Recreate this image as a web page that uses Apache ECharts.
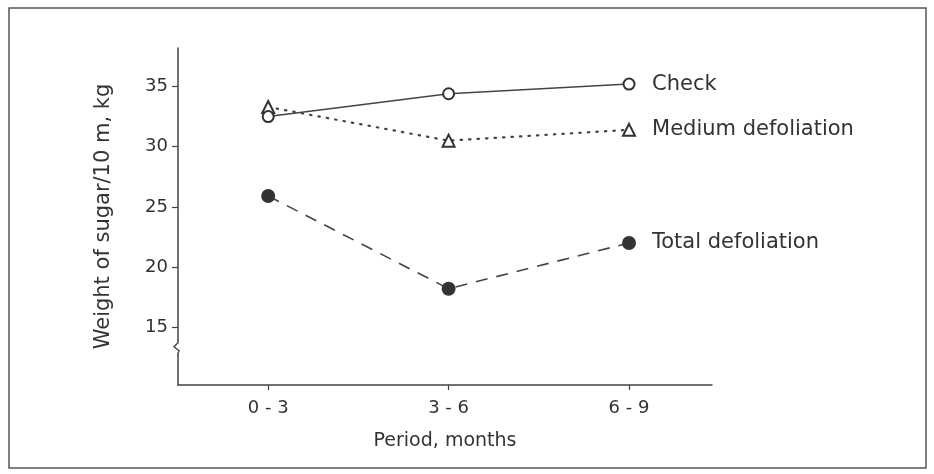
<!DOCTYPE html>
<html>
<head>
<meta charset="utf-8">
<script src="https://cdn.jsdelivr.net/npm/echarts@6/dist/echarts.min.js"></script>
<style>
html,body{margin:0;padding:0;background:#fff;}
#chart{width:934px;height:474px;}
</style>
</head>
<body>
<div id="chart"></div>
<script>
// ---- data ----
var categories = ['0 - 3', '3 - 6', '6 - 9'];
var checkValues = [32.5, 34.4, 35.2];
var mediumValues = [33.3, 30.5, 31.4];
var totalValues = [25.9, 18.2, 22.0];
var seriesNames = ['Check', 'Medium defoliation', 'Total defoliation'];
var yTickValues = [15, 20, 25, 30, 35];
var xTickValues = [0, 1, 2];
var yAxisName = 'Weight of sugar/10 m, kg';
var xAxisName = 'Period, months';

var FONT = '"DejaVu Sans", Verdana, sans-serif';
var TXT = '#333';
var LN = '#444';

function toPairs(arr) { return arr.map(function (v, i) { return [i, v]; }); }

var chart = echarts.init(document.getElementById('chart'), null, { renderer: 'canvas' });

var endLabel = {
  show: true,
  formatter: '{a}',
  color: TXT,
  fontFamily: FONT,
  fontSize: 21,
  distance: 23
};

var option = {
  animation: false,
  backgroundColor: '#fff',
  grid: { left: 178, right: 222, top: 48, bottom: 89, containLabel: false },
  xAxis: {
    type: 'value',
    min: -0.5,
    max: 2.46,
    axisLine: { show: true, onZero: false, lineStyle: { color: LN, width: 1.5 } },
    axisTick: { show: true, length: 5, inside: false, customValues: xTickValues, lineStyle: { color: LN, width: 1.2 } },
    axisLabel: {
      customValues: xTickValues,
      formatter: function (v) { return categories[Math.round(v)]; },
      color: TXT, fontFamily: FONT, fontSize: 18, margin: 14
    },
    splitLine: { show: false },
    name: xAxisName,
    nameLocation: 'middle',
    nameGap: 47,
    nameTextStyle: { color: TXT, fontFamily: FONT, fontSize: 19 }
  },
  yAxis: {
    type: 'value',
    min: 10.2,
    max: 38.2,
    axisLine: { show: true, onZero: false, lineStyle: { color: LN, width: 1.5 } },
    axisTick: { show: true, length: 6, customValues: yTickValues, lineStyle: { color: LN, width: 1.2 } },
    axisLabel: {
      customValues: yTickValues,
      color: TXT, fontFamily: FONT, fontSize: 18, margin: 10
    },
    splitLine: { show: false },
    name: yAxisName,
    nameLocation: 'middle',
    nameGap: 64,
    nameRotate: 90,
    nameTextStyle: { color: TXT, fontFamily: FONT, fontSize: 21 }
  },
  series: [
    {
      name: seriesNames[0],
      type: 'line',
      data: toPairs(checkValues),
      symbol: 'circle',
      symbolSize: 11,
      itemStyle: { color: '#fff', borderColor: '#333', borderWidth: 2 },
      lineStyle: { color: LN, width: 1.5, type: 'solid' },
      endLabel: endLabel,
      z: 3
    },
    {
      name: seriesNames[1],
      type: 'line',
      data: toPairs(mediumValues),
      symbol: 'triangle',
      symbolSize: 12,
      itemStyle: { color: '#fff', borderColor: '#333', borderWidth: 2 },
      lineStyle: { color: LN, width: 2.2, type: [1.5, 7], cap: 'round' },
      endLabel: endLabel,
      z: 2
    },
    {
      name: seriesNames[2],
      type: 'line',
      data: toPairs(totalValues),
      symbol: 'circle',
      symbolSize: 14,
      itemStyle: { color: '#333', borderColor: '#333', borderWidth: 0 },
      lineStyle: { color: LN, width: 1.6, type: [12, 9] },
      endLabel: endLabel,
      z: 2
    }
  ]
};

chart.setOption(option);

// frame and axis-break squiggle, positioned through the chart's own scale
function addDecor() {
  var p = chart.convertToPixel({ gridIndex: 0 }, [-0.5, 13.3]);
  var x = p[0], y = p[1];
  chart.setOption({
    graphic: [
      {
        type: 'rect',
        shape: { x: 9, y: 8, width: 917, height: 460 },
        style: { fill: null, stroke: '#555', lineWidth: 1.5 },
        silent: true
      },
      {
        type: 'rect',
        shape: { x: x - 3, y: y - 7, width: 6, height: 14 },
        style: { fill: '#fff', stroke: null },
        silent: true, z: 100
      },
      {
        type: 'polyline',
        shape: { points: [[x, y - 8], [x, y - 5], [x - 4, y - 1], [x + 1, y + 3], [x, y + 6], [x, y + 8]] },
        style: { fill: null, stroke: LN, lineWidth: 1.4 },
        silent: true, z: 101
      }
    ]
  });
}
addDecor();
</script>
</body>
</html>
